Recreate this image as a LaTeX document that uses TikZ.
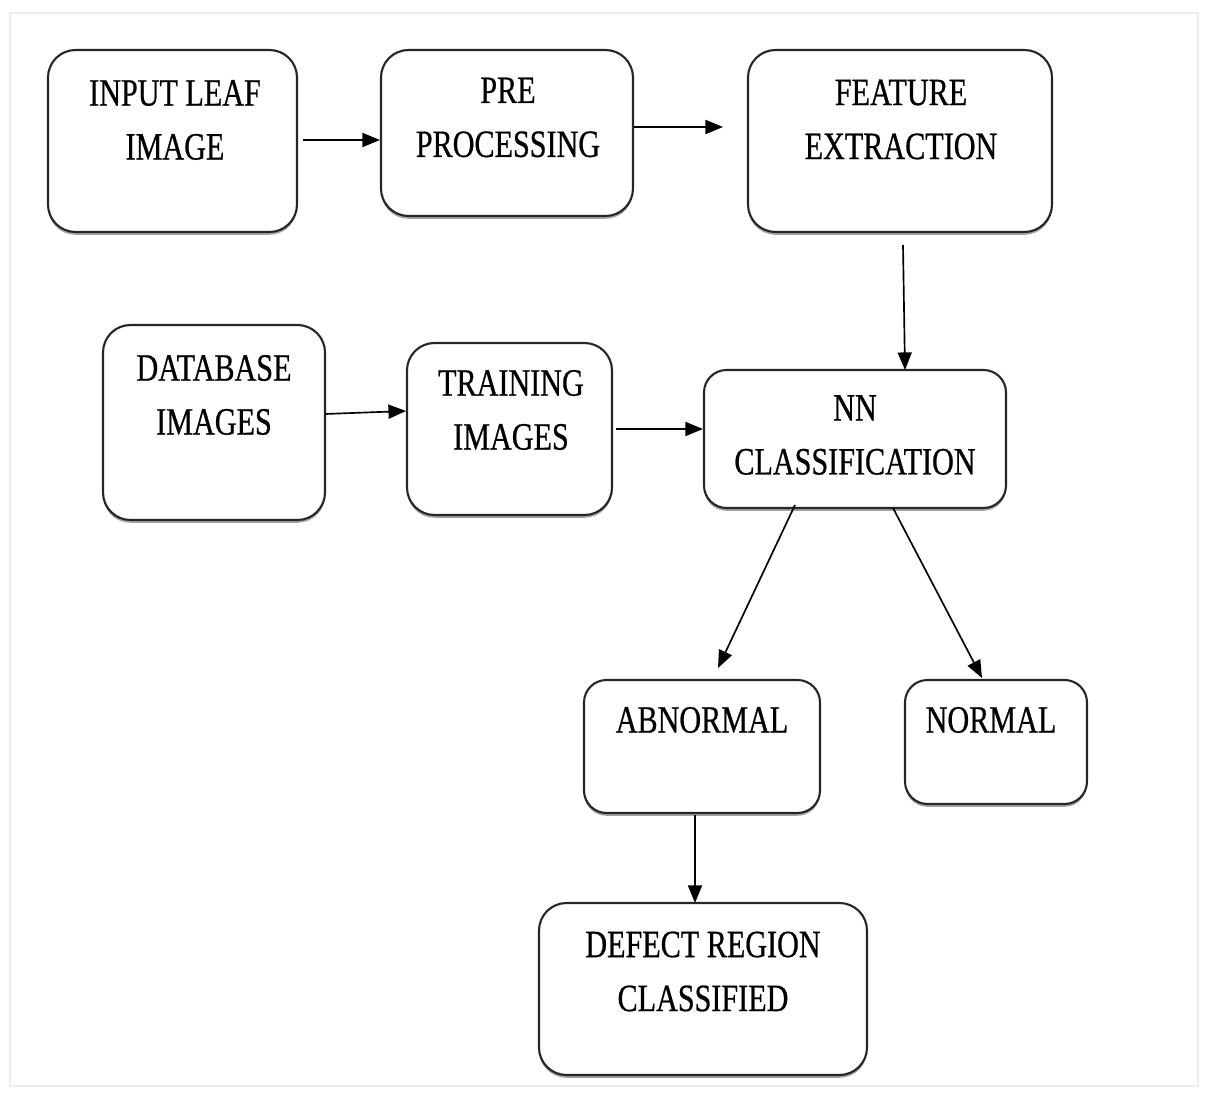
\documentclass[tikz,border=0pt]{standalone}
\usepackage{fontspec}
\newfontfamily\boxfont[FakeStretch=0.78,FakeBold=0.6]{Liberation Serif}
\usetikzlibrary{fit,shadows,arrows.meta}
\begin{document}
\begin{tikzpicture}[x=0.02cm,y=-0.02cm,
  box/.style={draw=black!85,line width=1.2pt,rounded corners=0.55cm,fill=white,inner sep=0pt,
    drop shadow={shadow xshift=0pt,shadow yshift=-1.6pt,fill=black!45,opacity=0.8}},
  lbl/.style={font=\boxfont\fontsize{22}{30.7}\selectfont,align=center,inner sep=0pt,text=black},
  arr/.style={draw=black,line width=0.95pt,-{Triangle[length=10pt,width=8pt]}}]
\useasboundingbox (0,0) rectangle (1207,1102);
\draw[black!7,line width=0.6pt] (10,13) rectangle (1198,1086);
% boxes
\node[box,fit={(48,50) (297,232)}] (b1) {};
\node[box,fit={(381,50) (633,216)}] (b2) {};
\node[box,fit={(748,50) (1052,232)}] (b3) {};
\node[box,fit={(103,325) (325,520)}] (b4) {};
\node[box,fit={(407,343) (612,515)}] (b5) {};
\node[box,rounded corners=0.45cm,fit={(704,370) (1006,508)}] (b6) {};
\node[box,rounded corners=0.45cm,fit={(584,680) (820,813)}] (b7) {};
\node[box,rounded corners=0.45cm,fit={(905,680) (1087,804)}] (b8) {};
\node[box,fit={(539,903) (867,1075)}] (b9) {};
% labels
\node[lbl] (t1) at (175,120) {INPUT LEAF\\IMAGE};
\node[lbl] (t2) at (508,117.5) {PRE\\PROCESSING};
\node[lbl] (t3) at (901,119.5) {FEATURE\\EXTRACTION};
\node[lbl] (t4) at (214,395) {DATABASE\\IMAGES};
\node[lbl] (t5) at (511,410) {TRAINING\\IMAGES};
\node[lbl] (t6) at (855,435) {NN\\CLASSIFICATION};
\node[lbl] (t7) at (702,720) {ABNORMAL};
\node[lbl] (t8) at (991,720) {NORMAL};
\node[lbl] (t9) at (703,971.5) {DEFECT REGION\\CLASSIFIED};
% connector end points
\coordinate (a1s) at (303,140);
\coordinate (a2e) at (723,127);
\coordinate (a3s) at (903,245);
\coordinate (a3e) at (905,370);
\coordinate (a4s) at (325,414);
\coordinate (a4e) at (406,411);
\coordinate (a5s) at (616,429);
\coordinate (a6s) at (795,505);
\coordinate (a6e) at (718,668);
\coordinate (a7s) at (893,508);
\coordinate (a7e) at (982,678);
\coordinate (a8s) at (695,815);
\coordinate (a8e) at (695,903);
% connectors
\draw[arr] (a1s) -- (b2.west |- a1s);
\draw[arr] (b2.east |- a2e) -- (a2e);
\draw[arr] (a3s) -- (a3e);
\draw[arr] (a4s) -- (a4e);
\draw[arr] (a5s) -- (b6.west |- a5s);
\draw[arr] (a6s) -- (a6e);
\draw[arr] (a7s) -- (a7e);
\draw[arr] (a8s) -- (a8e);
\end{tikzpicture}
\end{document}
